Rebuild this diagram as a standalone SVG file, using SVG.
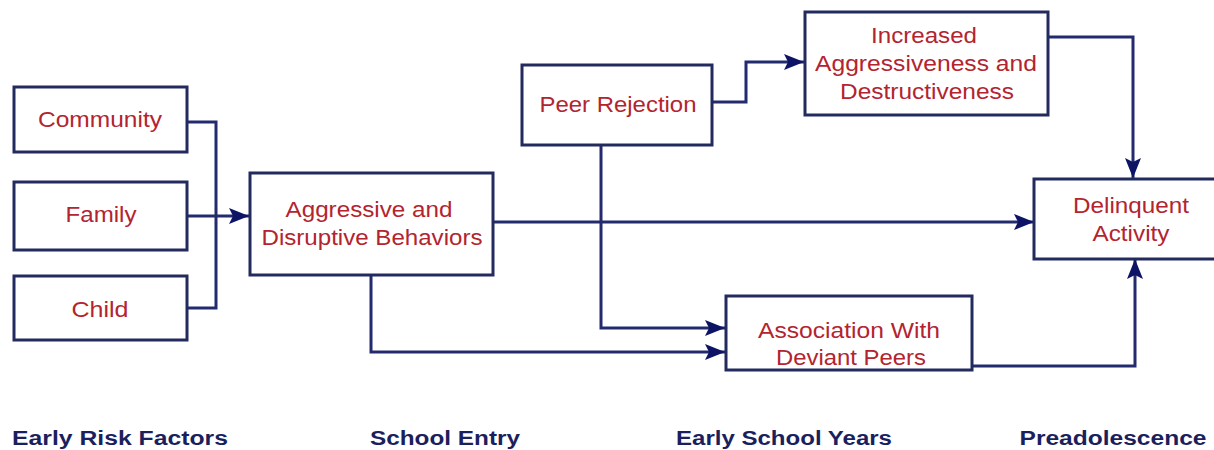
<svg xmlns="http://www.w3.org/2000/svg" width="1214" height="450" viewBox="0 0 1214 450">
<defs>
<marker id="arr" viewBox="0 0 20 16" refX="20" refY="8" markerWidth="20" markerHeight="16" markerUnits="userSpaceOnUse" orient="auto">
<path d="M0,0 L20,8 L0,16 L4,8 Z" fill="#0d1466"/>
</marker>
<style>
.box{fill:#ffffff;stroke:#232b5e;stroke-width:3}
.t{font-family:"Liberation Sans",Arial,sans-serif;font-size:22px;fill:#b3242f;text-anchor:middle}
.lab{font-family:"Liberation Sans",Arial,sans-serif;font-size:20px;font-weight:bold;fill:#1b1f5e;text-anchor:middle}
.c{fill:none;stroke:#232b6e;stroke-width:3}
</style>
</defs>
<rect width="1214" height="450" fill="#ffffff"/>
<g id="connectors">
<polyline class="c" points="187,122 216,122 216,308 187,308"/>
<line class="c" x1="187" y1="216" x2="249" y2="216" marker-end="url(#arr)"/>
<line class="c" x1="493" y1="222" x2="1034" y2="222" marker-end="url(#arr)"/>
<polyline class="c" points="371,275 371,352 725,352" marker-end="url(#arr)"/>
<polyline class="c" points="601,145 601,328 725,328" marker-end="url(#arr)"/>
<polyline class="c" points="712,102 746,102 746,62 804,62" marker-end="url(#arr)"/>
<polyline class="c" points="1048,37 1133,37 1133,178" marker-end="url(#arr)"/>
<polyline class="c" points="972,366 1135,366 1135,259" marker-end="url(#arr)"/>
</g>
<g id="community"><rect class="box" x="14" y="87" width="173" height="65"/><text class="t" x="100" y="127" textLength="124" lengthAdjust="spacingAndGlyphs">Community</text></g>
<g id="family"><rect class="box" x="14" y="182" width="173" height="68"/><text class="t" x="101" y="222" textLength="71" lengthAdjust="spacingAndGlyphs">Family</text></g>
<g id="child"><rect class="box" x="14" y="276" width="173" height="64"/><text class="t" x="100" y="317" textLength="57" lengthAdjust="spacingAndGlyphs">Child</text></g>
<g id="aggressive"><rect class="box" x="250" y="173" width="243" height="102"/><text class="t" x="369" y="217" textLength="167" lengthAdjust="spacingAndGlyphs">Aggressive and</text><text class="t" x="372" y="245" textLength="221" lengthAdjust="spacingAndGlyphs">Disruptive Behaviors</text></g>
<g id="peer-rejection"><rect class="box" x="522" y="65" width="190" height="80"/><text class="t" x="618" y="112" textLength="157" lengthAdjust="spacingAndGlyphs">Peer Rejection</text></g>
<g id="increased"><rect class="box" x="805" y="12" width="243" height="103"/><text class="t" x="924" y="43" textLength="106" lengthAdjust="spacingAndGlyphs">Increased</text><text class="t" x="926" y="71" textLength="222" lengthAdjust="spacingAndGlyphs">Aggressiveness and</text><text class="t" x="927" y="99" textLength="174" lengthAdjust="spacingAndGlyphs">Destructiveness</text></g>
<g id="delinquent"><rect class="box" x="1034" y="179" width="190" height="80"/><text class="t" x="1131" y="213" textLength="116" lengthAdjust="spacingAndGlyphs">Delinquent</text><text class="t" x="1131" y="241" textLength="77" lengthAdjust="spacingAndGlyphs">Activity</text></g>
<g id="association"><rect class="box" x="726" y="296" width="246" height="74"/><text class="t" x="849" y="338" textLength="182" lengthAdjust="spacingAndGlyphs">Association With</text><text class="t" x="851" y="365" textLength="150" lengthAdjust="spacingAndGlyphs">Deviant Peers</text></g>
<g id="labels">
<text class="lab" x="120" y="445" textLength="216" lengthAdjust="spacingAndGlyphs">Early Risk Factors</text>
<text class="lab" x="445" y="445" textLength="150" lengthAdjust="spacingAndGlyphs">School Entry</text>
<text class="lab" x="784" y="445" textLength="216" lengthAdjust="spacingAndGlyphs">Early School Years</text>
<text class="lab" x="1113" y="445" textLength="187" lengthAdjust="spacingAndGlyphs">Preadolescence</text>
</g>
</svg>
